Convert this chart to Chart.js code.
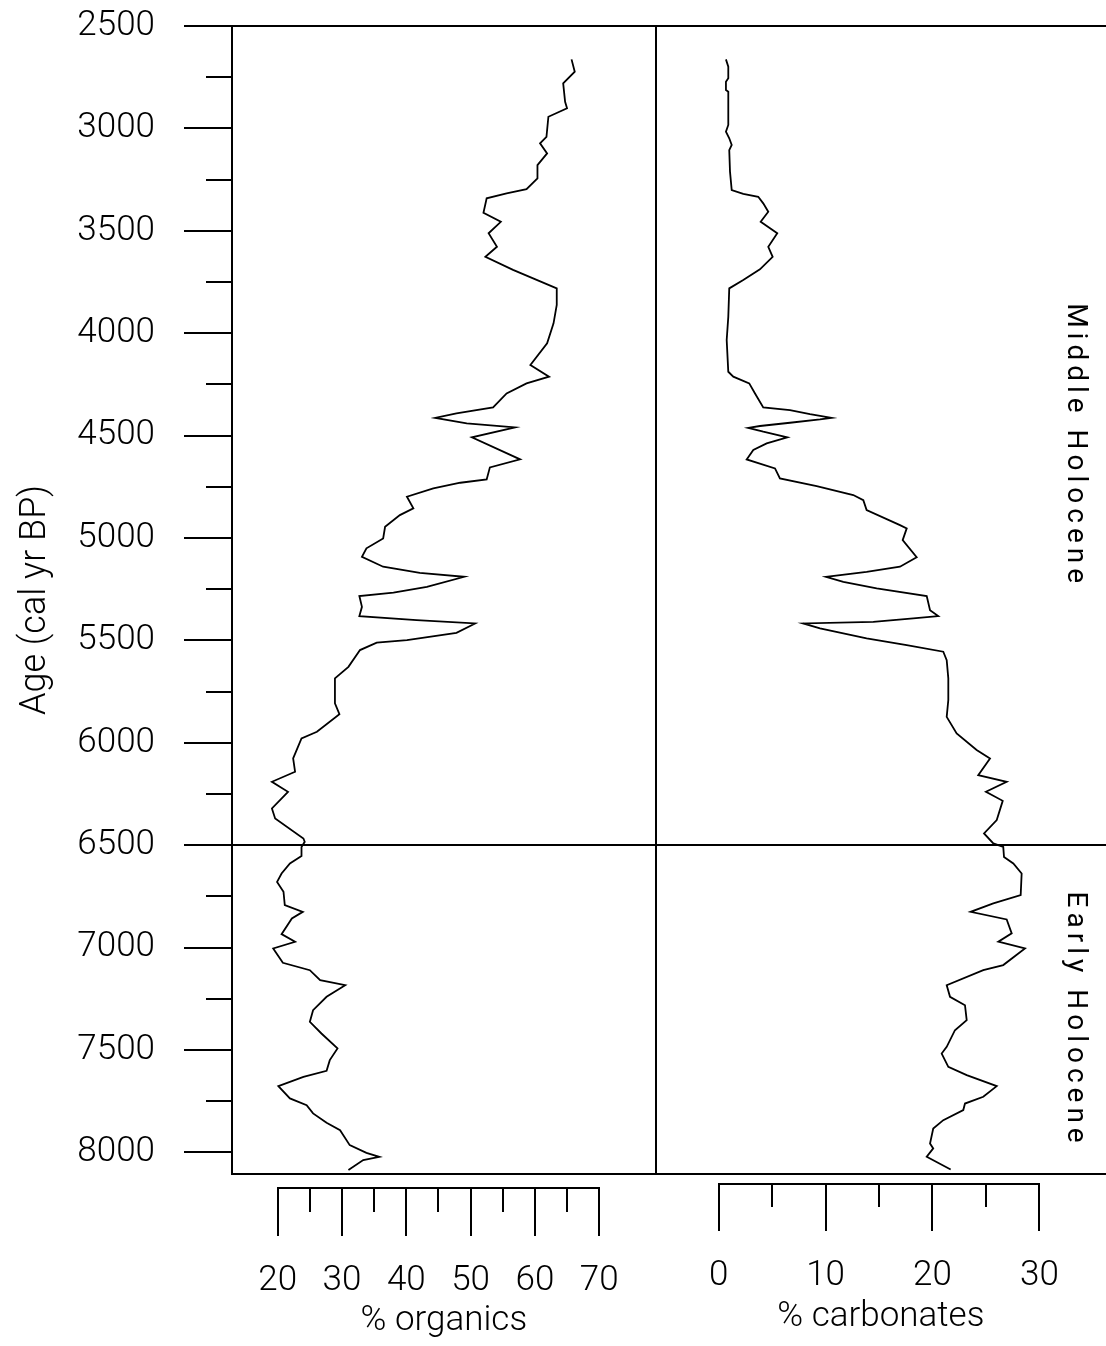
<!DOCTYPE html>
<html>
<head>
<meta charset="utf-8">
<title>Organics and carbonates by age</title>
<script src="https://cdn.jsdelivr.net/npm/chart.js@4.4.1/dist/chart.umd.min.js"></script>
<style>
  html, body { margin: 0; padding: 0; background: #fff; }
  canvas { display: block; }
</style>
</head>
<body>
<canvas id="core" width="1106" height="1346"></canvas>
<script>
// Loss-on-ignition profile: % organics and % carbonates against calibrated age
const organicsAge = [
  2663, 2723, 2780, 2870, 2902, 2943, 3041, 3073, 3122, 3179,
  3244, 3297, 3317, 3341, 3412, 3456, 3512, 3578, 3627, 3691,
  3781, 3862, 3952, 4049, 4155, 4212, 4245, 4294, 4362, 4391,
  4413, 4440, 4460, 4508, 4616, 4655, 4714, 4730, 4758, 4798,
  4855, 4888, 4945, 5002, 5050, 5092, 5140, 5170, 5189, 5238,
  5267, 5283, 5336, 5381, 5401, 5417, 5463, 5498, 5511, 5547,
  5629, 5685, 5807, 5860, 5946, 5978, 6076, 6141, 6190, 6239,
  6320, 6369, 6467, 6483, 6508, 6553, 6589, 6638, 6679, 6727,
  6792, 6825, 6857, 6934, 6971, 7004, 7074, 7110, 7159, 7183,
  7240, 7305, 7362, 7419, 7492, 7549, 7601, 7631, 7676, 7736,
  7769, 7809, 7855, 7891, 7964, 8002, 8021, 8037, 8086
];
const organicsPct = [
  65.7, 66.2, 64.4, 64.7, 65.0, 62.1, 61.8, 60.8, 61.9, 60.4,
  60.4, 58.7, 55.6, 52.5, 52.0, 54.7, 52.8, 54.1, 52.3, 56.6,
  63.4, 63.4, 62.9, 61.9, 59.3, 62.2, 58.7, 55.6, 53.5, 47.8,
  44.5, 49.4, 56.9, 50.2, 57.7, 53.0, 52.5, 48.4, 44.2, 40.1,
  41.1, 39.0, 36.7, 36.4, 33.8, 33.1, 36.4, 42.1, 49.0, 43.2,
  38.0, 32.7, 33.1, 32.7, 41.6, 50.7, 47.8, 40.1, 35.4, 32.8,
  31.0, 28.9, 28.9, 29.6, 26.1, 23.7, 22.4, 22.7, 19.1, 21.6,
  19.1, 19.6, 24.0, 24.2, 23.7, 23.7, 21.9, 20.6, 19.9, 20.9,
  21.1, 23.9, 22.2, 20.6, 22.7, 19.3, 20.8, 25.0, 26.6, 30.5,
  27.6, 25.5, 25.0, 26.8, 29.3, 28.1, 27.6, 24.0, 20.1, 21.9,
  24.5, 25.5, 27.6, 29.7, 31.2, 33.8, 35.8, 33.3, 31.0
];
const carbonatesAge = [
  2663, 2699, 2755, 2772, 2813, 2821, 2983, 3016, 3048, 3081,
  3106, 3211, 3301, 3320, 3334, 3366, 3407, 3456, 3512, 3578,
  3627, 3688, 3740, 3781, 3920, 4033, 4188, 4212, 4245, 4294,
  4362, 4375, 4395, 4413, 4421, 4437, 4453, 4462, 4481, 4508,
  4538, 4570, 4616, 4660, 4709, 4746, 4790, 4815, 4863, 4937,
  4953, 5010, 5094, 5140, 5165, 5189, 5214, 5246, 5283, 5352,
  5381, 5392, 5409, 5417, 5441, 5490, 5523, 5555, 5596, 5685,
  5791, 5873, 5954, 6035, 6076, 6158, 6190, 6239, 6283, 6377,
  6442, 6491, 6508, 6557, 6589, 6638, 6743, 6784, 6825, 6862,
  6930, 6971, 7004, 7085, 7110, 7183, 7240, 7281, 7354, 7403,
  7484, 7517, 7582, 7622, 7676, 7728, 7761, 7793, 7842, 7883,
  7956, 7980, 8021, 8083
];
const carbonatesPct = [
  0.68, 0.90, 0.90, 0.68, 0.68, 0.90, 0.90, 0.68, 0.99, 1.22,
  0.99, 1.06, 1.22, 2.30, 3.70, 4.17, 4.64, 3.93, 5.48, 4.64,
  5.05, 3.86, 2.30, 0.99, 0.90, 0.75, 0.90, 1.37, 2.86, 3.40,
  4.17, 6.67, 8.54, 10.57, 9.48, 6.67, 3.86, 2.77, 4.17, 6.42,
  4.49, 3.24, 2.62, 5.27, 5.73, 9.17, 12.59, 13.53, 13.84, 16.96,
  17.59, 17.21, 18.52, 16.96, 13.84, 10.04, 11.66, 14.78, 19.46, 19.77,
  20.54, 18.20, 14.46, 7.91, 9.48, 13.84, 17.59, 21.01, 21.33, 21.48,
  21.48, 21.33, 22.26, 24.13, 25.38, 24.28, 26.94, 25.00, 26.57, 26.01,
  24.82, 25.69, 26.62, 26.69, 27.56, 28.34, 28.25, 25.69, 23.57, 26.94,
  27.41, 26.16, 28.65, 26.62, 24.75, 21.33, 21.64, 23.04, 23.20, 22.10,
  21.33, 20.86, 21.48, 23.20, 26.01, 24.75, 23.04, 22.88, 21.01, 20.07,
  19.77, 20.07, 19.46, 21.70
];

// Axis ticks
const ageTicks = [2500, 2750, 3000, 3250, 3500, 3750, 4000, 4250, 4500, 4750, 5000,
  5250, 5500, 5750, 6000, 6250, 6500, 6750, 7000, 7250, 7500, 7750, 8000];
const ageLabelled = [2500, 3000, 3500, 4000, 4500, 5000, 5500, 6000, 6500, 7000, 7500, 8000];
const organicsTicks = [20, 30, 40, 50, 60, 70];
const organicsMinorTicks = [25, 35, 45, 55, 65];
const carbonatesTicks = [0, 10, 20, 30];
const carbonatesMinorTicks = [5, 15, 25];

// Holocene zones (boundary at 6500 cal yr BP)
const zoneNames = ['Middle Holocene', 'Early Holocene'];
const zoneBounds = [2500, 6500, 8105];
const ageRange = [2500, 8105];
const organicsRange = [12.89, 78.79];
const carbonatesRange = [-5.89, 36.23];

const FONT = 'Roboto, "Liberation Sans", Arial, sans-serif';
Chart.defaults.font.family = FONT;
Chart.defaults.font.size = 35;
Chart.defaults.font.weight = 300;
Chart.defaults.color = '#000';

const toPoints = (xs, ys) => xs.map((v, i) => ({ x: v, y: ys[i] }));

// Fixed axis box sizes; label overhang must not shrink the plot area
const fixBox = (w, h) => s => {
  if (w !== null) s.width = w;
  if (h !== null) s.height = h;
  s.paddingTop = 0;
  s.paddingBottom = 0;
  s.paddingLeft = 0;
  s.paddingRight = 0;
};

// Bracket-style value axes under each panel, plus the panel divider and zone names
const panelDecor = {
  id: 'panelDecor',
  afterDraw(chart) {
    const { ctx, chartArea, scales } = chart;
    ctx.save();
    ctx.strokeStyle = '#000';
    ctx.lineWidth = 2;
    ctx.lineCap = 'butt';

    const seg = (x1, y1, x2, y2) => {
      ctx.beginPath();
      ctx.moveTo(x1, y1);
      ctx.lineTo(x2, y2);
      ctx.stroke();
    };

    // divider between the two panels
    const xd = Math.round(scales.x2.left);
    seg(xd, chartArea.top, xd, chartArea.bottom);

    const bracket = (scale, major, minor, y0, majorLen, minorLen) => {
      const px = v => Math.round(scale.getPixelForValue(v));
      seg(px(major[0]) - 1, y0, px(major[major.length - 1]) + 1, y0);
      major.forEach(v => seg(px(v), y0, px(v), y0 + majorLen));
      minor.forEach(v => seg(px(v), y0, px(v), y0 + minorLen));
    };
    bracket(scales.x1, organicsTicks, organicsMinorTicks, chartArea.bottom + 14, 48, 24);
    bracket(scales.x2, carbonatesTicks, carbonatesMinorTicks, chartArea.bottom + 10, 47, 23);

    // zone names, reading top to bottom along the right edge
    ctx.fillStyle = '#000';
    ctx.font = '400 28px ' + FONT;
    ctx.letterSpacing = '5px';
    ctx.textAlign = 'center';
    ctx.textBaseline = 'middle';
    zoneNames.forEach((name, i) => {
      const yMid = scales.y.getPixelForValue((zoneBounds[i] + zoneBounds[i + 1]) / 2);
      ctx.save();
      ctx.translate(chartArea.right - 31, yMid + 10);
      ctx.rotate(Math.PI / 2);
      ctx.fillText(name, 0, 0);
      ctx.restore();
    });
    ctx.restore();
  }
};

new Chart(document.getElementById('core'), {
  type: 'scatter',
  data: {
    datasets: [
      {
        label: '% organics',
        data: toPoints(organicsPct, organicsAge),
        xAxisID: 'x1',
        yAxisID: 'y',
        showLine: true,
        borderColor: '#000',
        borderWidth: 1.8,
        pointRadius: 0,
        tension: 0
      },
      {
        label: '% carbonates',
        data: toPoints(carbonatesPct, carbonatesAge),
        xAxisID: 'x2',
        yAxisID: 'y',
        showLine: true,
        borderColor: '#000',
        borderWidth: 1.8,
        pointRadius: 0,
        tension: 0
      }
    ]
  },
  options: {
    responsive: false,
    animation: false,
    devicePixelRatio: 1,
    layout: { padding: { top: 26, left: 0, right: 0, bottom: 0 } },
    plugins: { legend: { display: false }, tooltip: { enabled: false } },
    scales: {
      y: {
        type: 'linear',
        position: 'left',
        reverse: true,
        min: ageRange[0],
        max: ageRange[1],
        afterBuildTicks: s => { s.ticks = ageTicks.map(v => ({ value: v })); },
        afterFit: fixBox(232, null),
        ticks: {
          autoSkip: false,
          padding: 29,
          callback: v => (ageLabelled.includes(v) ? String(v) : '')
        },
        grid: {
          drawOnChartArea: true,
          drawTicks: true,
          tickLength: 48,
          lineWidth: 2,
          tickWidth: 2,
          tickColor: '#000',
          color: c => (c.tick && (c.tick.value === zoneBounds[0] || c.tick.value === zoneBounds[1]) ? '#000' : 'rgba(0,0,0,0)'),
          tickBorderDash: c => (c.tick && !ageLabelled.includes(c.tick.value) ? [0, 22, 100, 0] : [])
        },
        border: { display: true, color: '#000', width: 2 },
        title: {
          display: true,
          text: 'Age (cal yr BP)',
          padding: { top: 14, bottom: 0 },
          font: { size: 36, weight: 300 }
        }
      },
      x1: {
        type: 'linear',
        position: 'bottom',
        stack: 'panels',
        stackWeight: 423.7,
        min: organicsRange[0],
        max: organicsRange[1],
        afterBuildTicks: s => { s.ticks = organicsTicks.map(v => ({ value: v })); },
        afterFit: fixBox(null, 172),
        ticks: { autoSkip: false, maxRotation: 0, minRotation: 0, padding: 86 },
        grid: { display: false, drawTicks: false, drawOnChartArea: false },
        border: { display: true, color: '#000', width: 2 },
        title: {
          display: true,
          text: '% organics',
          padding: { top: 0, bottom: 4 },
          font: { size: 35, weight: 300 }
        }
      },
      x2: {
        type: 'linear',
        position: 'bottom',
        stack: 'panels',
        stackWeight: 450.3,
        min: carbonatesRange[0],
        max: carbonatesRange[1],
        afterBuildTicks: s => { s.ticks = carbonatesTicks.map(v => ({ value: v })); },
        afterFit: fixBox(null, 172),
        ticks: { autoSkip: false, maxRotation: 0, minRotation: 0, padding: 81 },
        grid: { display: false, drawTicks: false, drawOnChartArea: false },
        border: { display: true, color: '#000', width: 2 },
        title: {
          display: true,
          text: '% carbonates',
          padding: { top: 0, bottom: 8 },
          font: { size: 35, weight: 300 }
        }
      }
    }
  },
  plugins: [panelDecor]
});
</script>
</body>
</html>
